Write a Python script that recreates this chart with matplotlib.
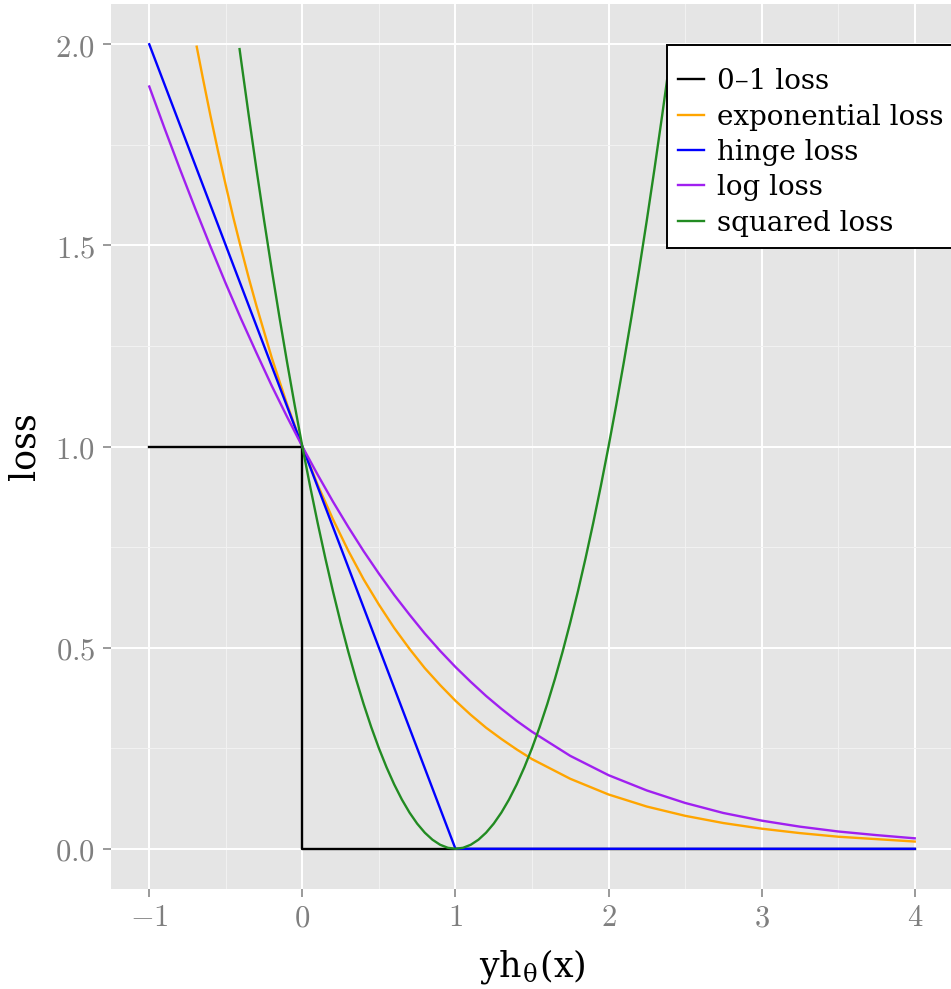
import matplotlib.pyplot as plt
from matplotlib.ticker import FuncFormatter, MultipleLocator


# ============================================
# SURROGATE LOSS FUNCTIONS - yh(x) vs loss
# ============================================

# values
zero_one_x = [-1.0, 0.0, 0.0, 4.0]
zero_one_y = [1.0, 1.0, 0.0, 0.0]

hinge_x = [-1.0, 1.0, 4.0]
hinge_y = [2.0, 0.0, 0.0]

exp_x = [-0.69, -0.65, -0.6, -0.55, -0.5, -0.45, -0.4, -0.35, -0.3, -0.2,
         -0.1, 0.0, 0.1, 0.2, 0.3, 0.4, 0.5, 0.6, 0.7, 0.8, 0.9, 1.0, 1.1,
         1.2, 1.3, 1.4, 1.5, 1.75, 2.0, 2.25, 2.5, 2.75, 3.0, 3.25, 3.5,
         3.75, 4.0]
exp_y = [1.994, 1.916, 1.822, 1.733, 1.649, 1.568, 1.492, 1.419, 1.350, 1.221,
         1.105, 1.000, 0.905, 0.819, 0.741, 0.670, 0.607, 0.549, 0.497, 0.449,
         0.407, 0.368, 0.333, 0.301, 0.273, 0.247, 0.223, 0.174, 0.135, 0.105,
         0.082, 0.064, 0.050, 0.039, 0.030, 0.024, 0.018]

log_x = [-1.0, -0.9, -0.8, -0.7, -0.6, -0.5, -0.4, -0.3, -0.2, -0.1, 0.0, 0.1,
         0.2, 0.3, 0.4, 0.5, 0.6, 0.7, 0.8, 0.9, 1.0, 1.1, 1.2, 1.3, 1.4, 1.5,
         1.75, 2.0, 2.25, 2.5, 2.75, 3.0, 3.25, 3.5, 3.75, 4.0]
log_y = [1.895, 1.791, 1.690, 1.592, 1.497, 1.405, 1.317, 1.233, 1.151, 1.074,
         1.000, 0.930, 0.863, 0.800, 0.740, 0.684, 0.631, 0.582, 0.535, 0.492,
         0.452, 0.415, 0.380, 0.348, 0.318, 0.291, 0.231, 0.183, 0.145, 0.114,
         0.089, 0.070, 0.055, 0.043, 0.034, 0.026]

sq_x = [-0.41, -0.4, -0.35, -0.3, -0.25, -0.2, -0.15, -0.1, -0.05, 0.0,
        0.05, 0.1, 0.15, 0.2, 0.25, 0.3, 0.35, 0.4, 0.45, 0.5,
        0.55, 0.6, 0.65, 0.7, 0.75, 0.8, 0.85, 0.9, 0.95, 1.0,
        1.05, 1.1, 1.15, 1.2, 1.25, 1.3, 1.35, 1.4, 1.45, 1.5,
        1.55, 1.6, 1.65, 1.7, 1.75, 1.8, 1.85, 1.9, 1.95, 2.0,
        2.05, 2.1, 2.15, 2.2, 2.25, 2.3, 2.35, 2.4, 2.41]
sq_y = [1.988, 1.96, 1.8225, 1.69, 1.5625, 1.44, 1.3225, 1.21, 1.1025, 1.0,
        0.9025, 0.81, 0.7225, 0.64, 0.5625, 0.49, 0.4225, 0.36, 0.3025, 0.25,
        0.2025, 0.16, 0.1225, 0.09, 0.0625, 0.04, 0.0225, 0.01, 0.0025, 0.0,
        0.0025, 0.01, 0.0225, 0.04, 0.0625, 0.09, 0.1225, 0.16, 0.2025, 0.25,
        0.3025, 0.36, 0.4225, 0.49, 0.5625, 0.64, 0.7225, 0.81, 0.9025, 1.0,
        1.1025, 1.21, 1.3225, 1.44, 1.5625, 1.69, 1.8225, 1.96, 1.988]

x_ticks = [-1, 0, 1, 2, 3, 4]
y_ticks = [0.0, 0.5, 1.0, 1.5, 2.0]


plt.rcParams["font.family"] = ["DejaVu Serif"]
plt.rcParams["mathtext.fontset"] = "cm"

fig = plt.figure(figsize=(9.51, 9.89), dpi=100)
ax = fig.add_axes([0.1167, 0.1011, 0.8854, 0.8948])
ax.set_facecolor("#E5E5E5")

lw = 1.7
ax.plot(zero_one_x, zero_one_y, color="black", lw=lw, label="0\u20131 loss")
ax.plot(exp_x, exp_y, color="#FFA500", lw=lw, label="exponential loss")
ax.plot(hinge_x, hinge_y, color="#0000FF", lw=lw, label="hinge loss")
ax.plot(log_x, log_y, color="#A020F0", lw=lw, label="log loss")
ax.plot(sq_x, sq_y, color="#228B22", lw=lw, label="squared loss")

ax.set_xlim(-1.25, 4.25)
ax.set_ylim(-0.1, 2.1)

ax.set_xticks(x_ticks)
ax.set_yticks(y_ticks)
ax.xaxis.set_minor_locator(MultipleLocator(0.5))
ax.yaxis.set_minor_locator(MultipleLocator(0.25))
ax.xaxis.set_major_formatter(FuncFormatter(lambda v, p: f"${v:g}$"))
ax.yaxis.set_major_formatter(FuncFormatter(lambda v, p: f"${v:.1f}$"))

ax.grid(which="major", color="white", lw=1.4)
ax.grid(which="minor", color="#F2F2F2", lw=0.7)
ax.set_axisbelow(True)

for s in ax.spines.values():
    s.set_visible(False)

ax.tick_params(which="major", length=5.5, width=1.1, color="#7F7F7F",
               labelcolor="#7F7F7F", labelsize=22)
ax.tick_params(axis="y", pad=6)
ax.tick_params(axis="x", pad=4)
ax.tick_params(which="minor", length=0)

ax.set_xlabel("yh$_{\\mathregular{\u03b8}}$(x)", fontsize=25, labelpad=10)
ax.set_ylabel("loss", fontsize=25, labelpad=10)

# empty tiny title gives the extra room above the first entry
leg = ax.legend(loc="upper left", bbox_to_anchor=(0.660, 0.954),
                borderaxespad=0, fontsize=20, frameon=True, fancybox=False,
                handlelength=0.95, handletextpad=0.45, labelspacing=0.3,
                borderpad=0.4, title=" ", title_fontsize=2)
leg.get_frame().set_edgecolor("black")
leg.get_frame().set_linewidth(1.4)
leg.get_frame().set_facecolor("white")
leg.get_frame().set_alpha(1)

fig.savefig("out.png", dpi=100)
